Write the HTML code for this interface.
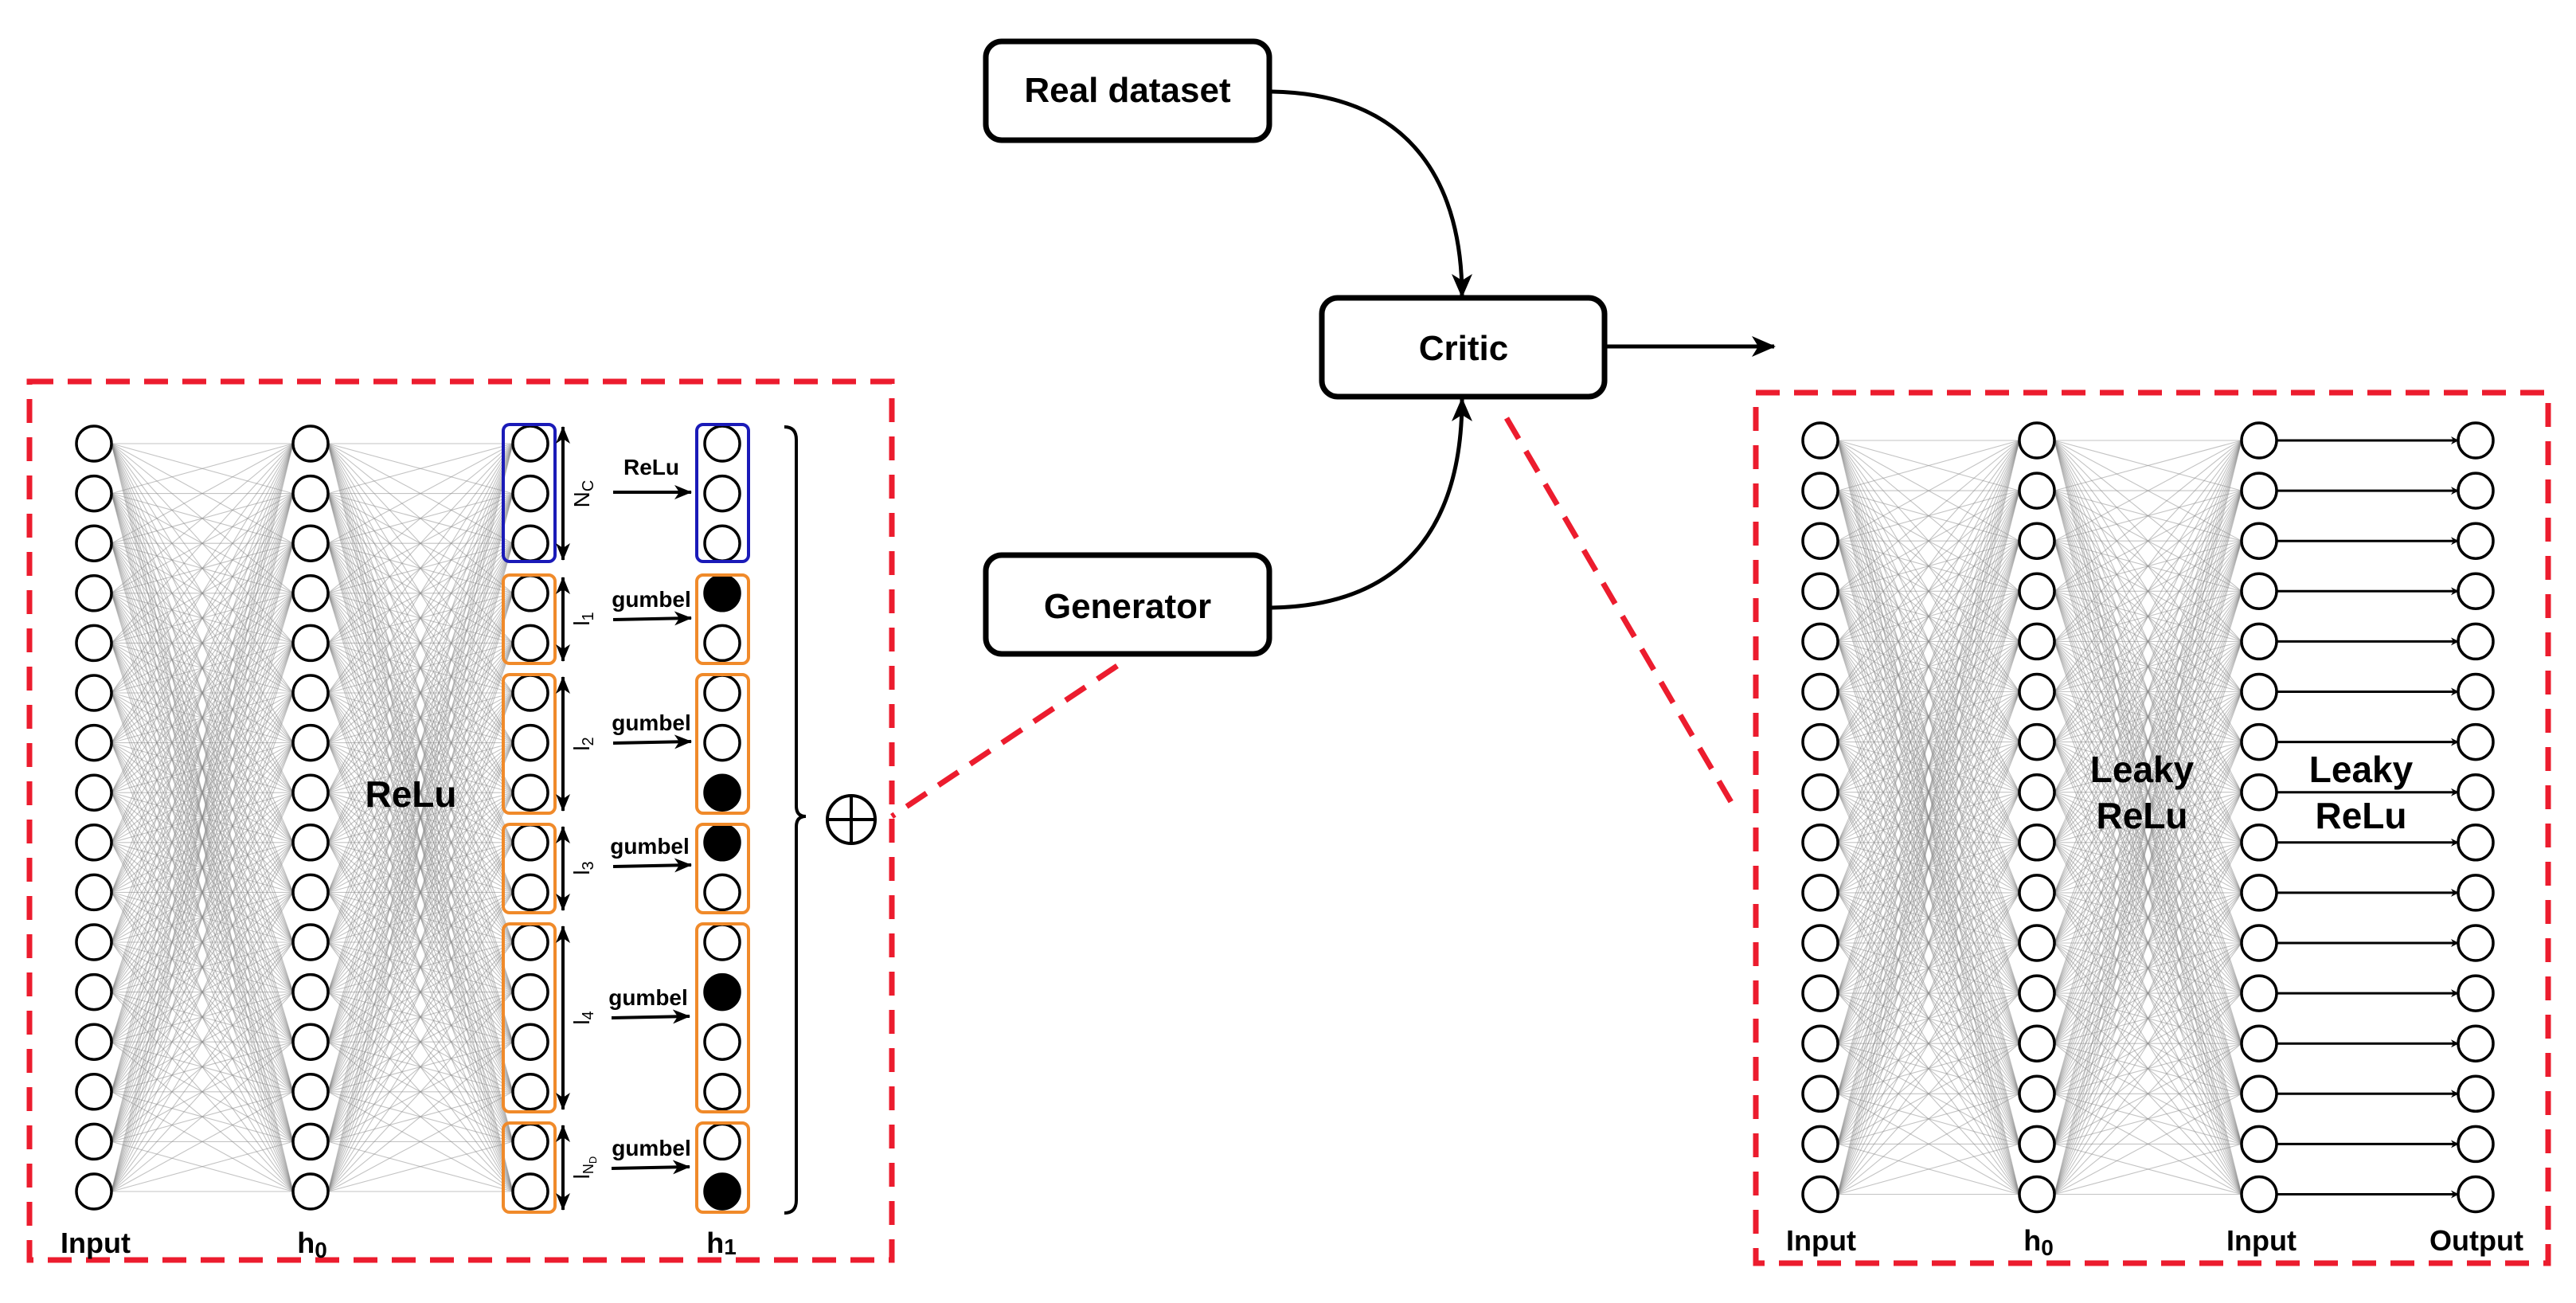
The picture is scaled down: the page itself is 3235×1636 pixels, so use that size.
<!DOCTYPE html>
<html><head><meta charset="utf-8"><style>
html,body{margin:0;padding:0;background:#fff;}
svg{display:block;}
text{font-family:"Liberation Sans",sans-serif;font-weight:bold;fill:#000;}
</style></head><body>
<svg id="s" width="3235" height="1636" viewBox="0 0 3235 1636" xmlns="http://www.w3.org/2000/svg">
<defs>
<marker id="ah" markerWidth="10" markerHeight="10" refX="9" refY="5" orient="auto" markerUnits="userSpaceOnUse" viewBox="0 0 10 10"><path d="M0,0 L10,5 L0,10 L3,5 z" fill="#000"/></marker>
<marker id="ahb" markerWidth="30" markerHeight="30" refX="28" refY="15" orient="auto" markerUnits="userSpaceOnUse" viewBox="0 0 30 30"><path d="M0,2 L30,15 L0,28 L8,15 z" fill="#000"/></marker>
<marker id="ahm" markerWidth="22" markerHeight="20" refX="21" refY="10" orient="auto" markerUnits="userSpaceOnUse" viewBox="0 0 22 20"><path d="M0,1 L22,10 L0,19 L6,10 z" fill="#000"/></marker>
<marker id="ahs" markerWidth="22" markerHeight="20" refX="21" refY="10" orient="auto-start-reverse" markerUnits="userSpaceOnUse" viewBox="0 0 22 20"><path d="M0,1 L22,10 L0,19 L6,10 z" fill="#000"/></marker>
</defs>
<g id="lines" stroke="#888" stroke-width="1.1" stroke-opacity="0.5"></g>
<g id="nodes"></g>

<rect x="37" y="479" width="1083" height="1103" fill="none" stroke="#ec1c2e" stroke-width="7" stroke-dasharray="30,18"/>
<rect x="2205" y="493" width="995" height="1093" fill="none" stroke="#ec1c2e" stroke-width="7" stroke-dasharray="30,18"/>
<line x1="1403" y1="836" x2="1120" y2="1025" stroke="#ec1c2e" stroke-width="7" stroke-dasharray="30,18"/>
<line x1="1892" y1="525" x2="2181" y2="1019" stroke="#ec1c2e" stroke-width="7" stroke-dasharray="30,18"/>

<rect x="1238" y="52" width="356" height="124" rx="20" fill="#fff" stroke="#000" stroke-width="7"/>
<text x="1416" y="128" font-size="44" text-anchor="middle">Real dataset</text>
<rect x="1660" y="374" width="355" height="124" rx="20" fill="#fff" stroke="#000" stroke-width="7"/>
<text x="1838" y="452" font-size="44" text-anchor="middle">Critic</text>
<rect x="1238" y="697" width="356" height="124" rx="20" fill="#fff" stroke="#000" stroke-width="7"/>
<text x="1416" y="776" font-size="44" text-anchor="middle">Generator</text>
<path d="M1597,115 C1780,118 1836,240 1836,372" fill="none" stroke="#000" stroke-width="5" marker-end="url(#ahb)"/>
<path d="M1597,763 C1780,760 1836,640 1836,501" fill="none" stroke="#000" stroke-width="5" marker-end="url(#ahb)"/>
<line x1="2018" y1="435" x2="2228" y2="435" stroke="#000" stroke-width="5" marker-end="url(#ahb)"/>

<rect x="632" y="533" width="65" height="172" rx="8" fill="none" stroke="#1a1ab8" stroke-width="4"/>
<rect x="875" y="533" width="65" height="172" rx="8" fill="none" stroke="#1a1ab8" stroke-width="4"/>
<g fill="none" stroke="#f08a2a" stroke-width="4">
<rect x="632" y="722" width="65" height="111" rx="8"/><rect x="875" y="722" width="65" height="111" rx="8"/>
<rect x="632" y="847" width="65" height="174" rx="8"/><rect x="875" y="847" width="65" height="174" rx="8"/>
<rect x="632" y="1035" width="65" height="111" rx="8"/><rect x="875" y="1035" width="65" height="111" rx="8"/>
<rect x="632" y="1160" width="65" height="236" rx="8"/><rect x="875" y="1160" width="65" height="236" rx="8"/>
<rect x="632" y="1410" width="65" height="112" rx="8"/><rect x="875" y="1410" width="65" height="112" rx="8"/>
</g>
<g stroke="#000" stroke-width="4" marker-start="url(#ahs)" marker-end="url(#ahs)">
<line x1="707" y1="536" x2="707" y2="703"/>
<line x1="707" y1="725" x2="707" y2="830"/>
<line x1="707" y1="850" x2="707" y2="1018"/>
<line x1="707" y1="1038" x2="707" y2="1143"/>
<line x1="707" y1="1163" x2="707" y2="1393"/>
<line x1="707" y1="1413" x2="707" y2="1519"/>
</g>
<g>
<text transform="translate(740,620) rotate(-90)" text-anchor="middle" font-size="28" style="font-weight:normal">N<tspan font-size="20" dy="5">C</tspan></text>
<text transform="translate(740,777) rotate(-90)" text-anchor="middle" font-size="28" style="font-weight:normal">l<tspan font-size="20" dy="5">1</tspan></text>
<text transform="translate(740,934) rotate(-90)" text-anchor="middle" font-size="28" style="font-weight:normal">l<tspan font-size="20" dy="5">2</tspan></text>
<text transform="translate(740,1090) rotate(-90)" text-anchor="middle" font-size="28" style="font-weight:normal">l<tspan font-size="20" dy="5">3</tspan></text>
<text transform="translate(740,1278) rotate(-90)" text-anchor="middle" font-size="28" style="font-weight:normal">l<tspan font-size="20" dy="5">4</tspan></text>
<text transform="translate(740,1466) rotate(-90)" text-anchor="middle" font-size="28" style="font-weight:normal">l<tspan font-size="18" dy="5">N<tspan font-size="13" dy="4">D</tspan></tspan></text>
</g>
<g stroke="#000" stroke-width="4" marker-end="url(#ahm)">
<line x1="770" y1="618" x2="868" y2="618"/>
<line x1="770" y1="778" x2="868" y2="776"/>
<line x1="770" y1="933" x2="868" y2="931"/>
<line x1="770" y1="1088" x2="868" y2="1086"/>
<line x1="768" y1="1278" x2="866" y2="1276"/>
<line x1="768" y1="1467" x2="866" y2="1465"/>
</g>
<g font-size="28">
<text x="818" y="596" text-anchor="middle">ReLu</text>
<text x="818" y="762" text-anchor="middle">gumbel</text>
<text x="818" y="917" text-anchor="middle">gumbel</text>
<text x="816" y="1072" text-anchor="middle">gumbel</text>
<text x="814" y="1262" text-anchor="middle">gumbel</text>
<text x="818" y="1451" text-anchor="middle">gumbel</text>
</g>
<path d="M985,536 Q1000,536 1000,552 L1000,1012 Q1000,1025 1012,1025 Q1000,1025 1000,1038 L1000,1507 Q1000,1523 985,1523" fill="none" stroke="#000" stroke-width="4"/>
<circle cx="1069" cy="1029" r="30" fill="none" stroke="#000" stroke-width="4"/>
<line x1="1039" y1="1029" x2="1099" y2="1029" stroke="#000" stroke-width="4"/>
<line x1="1069" y1="999" x2="1069" y2="1059" stroke="#000" stroke-width="4"/>

<text x="516" y="1013" font-size="46" text-anchor="middle">ReLu</text>
<g font-size="36">
<text x="120" y="1573" text-anchor="middle">Input</text>
<text x="392" y="1573" text-anchor="middle">h<tspan font-size="28" dy="6">0</tspan></text>
<text x="906" y="1573" text-anchor="middle">h<tspan font-size="28" dy="2">1</tspan></text>
<text x="2287" y="1570" text-anchor="middle">Input</text>
<text x="2560" y="1570" text-anchor="middle">h<tspan font-size="28" dy="6">0</tspan></text>
<text x="2840" y="1570" text-anchor="middle">Input</text>
<text x="3110" y="1570" text-anchor="middle">Output</text>
</g>
<g font-size="46" text-anchor="middle">
<text x="2690" y="982">Leaky</text><text x="2690" y="1040">ReLu</text>
<text x="2965" y="982">Leaky</text><text x="2965" y="1040">ReLu</text>
</g>
</svg>
<script>
var NS="http://www.w3.org/2000/svg";
var L=document.getElementById('lines'),N=document.getElementById('nodes');
function el(p,t,a){var e=document.createElementNS(NS,t);for(var k in a)e.setAttribute(k,a[k]);p.appendChild(e);return e;}
var r=22;
function rows(y0,d){var a=[];for(var i=0;i<16;i++)a.push(y0+i*d);return a;}
var yl=rows(557,62.6), yr=rows(553,63.1);
function full(x1,x2,ys){for(var i=0;i<16;i++)for(var j=0;j<16;j++)el(L,'line',{x1:x1+r,y1:ys[i],x2:x2-r,y2:ys[j]});}
full(118,390,yl);full(390,666,yl);
full(2286,2558,yr);full(2558,2837,yr);
function col(x,ys,filled){for(var i=0;i<16;i++)el(N,'circle',{cx:x,cy:ys[i],r:r,fill:(filled&&filled.indexOf(i)>=0)?'#000':'#fff',stroke:'#000','stroke-width':3.5});}
col(118,yl);col(390,yl);col(666,yl);col(907,yl,[3,7,8,11,15]);
col(2286,yr);col(2558,yr);col(2837,yr);col(3109,yr);
for(var i=0;i<16;i++)el(N,'line',{x1:2859,y1:yr[i],x2:3087,y2:yr[i],stroke:'#000','stroke-width':3,'marker-end':'url(#ah)'});
</script>
</body></html>
